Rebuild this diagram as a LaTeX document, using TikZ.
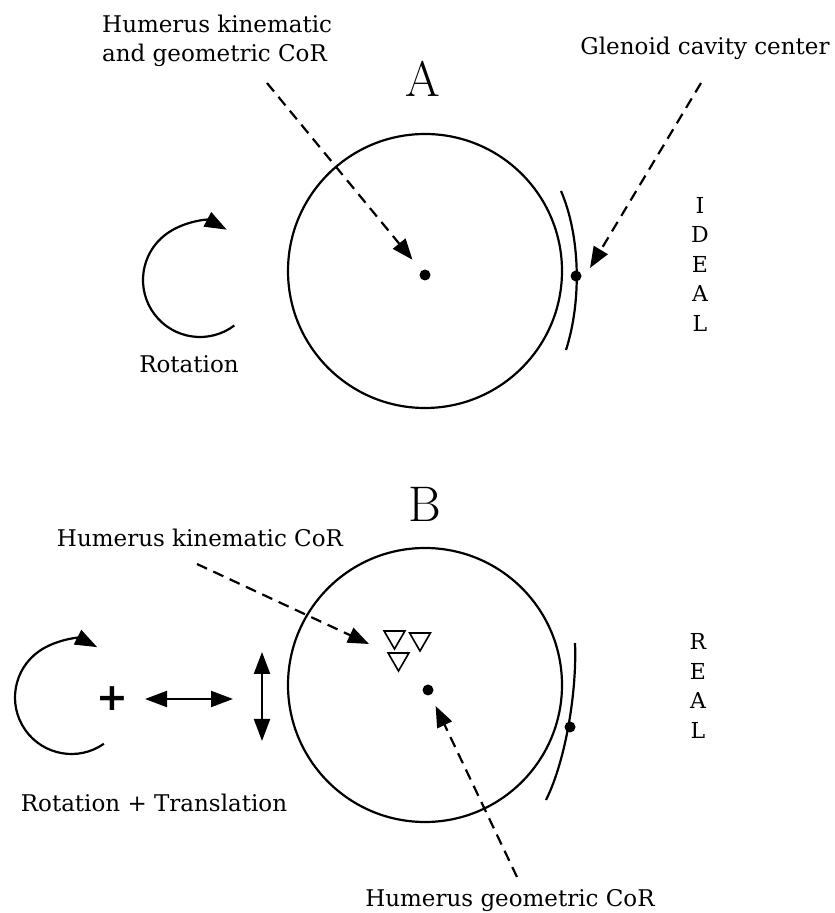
\documentclass[tikz,border=0pt]{standalone}
\usepackage{fontspec}
\usetikzlibrary{positioning,arrows.meta,shapes.geometric}
\newfontfamily\labelfont{DejaVu Serif}
\newfontfamily\plusfont{DejaVu Sans}

\begin{document}
\begin{tikzpicture}[x=1pt, y=1pt,
    labelBox/.style={inner sep=0pt, font=\labelfont\fontsize{23}{29}\selectfont, align=left},
    letterBox/.style={inner sep=0pt, font=\labelfont\fontsize{22}{29.5}\selectfont, align=center},
    panelBox/.style={inner sep=0pt, font=\fontsize{50}{60}\selectfont},
    headCircle/.style={circle, draw, line width=2.2pt, minimum size=274pt, inner sep=0pt},
    dotBox/.style={circle, fill, minimum size=11pt, inner sep=0pt},
    triBox/.style={regular polygon, regular polygon sides=3, shape border rotate=180, draw, line width=1.6pt, minimum size=24pt, inner sep=0pt},
    dashArrow/.style={-{Triangle[length=21pt, width=16pt]}, line width=2.2pt, dash pattern=on 11pt off 7pt},
    moveArrow/.style={{Triangle[length=22pt, width=16pt]}-{Triangle[length=22pt, width=16pt]}, line width=2.2pt},
    rotArrow/.style={-{Triangle[length=22pt, width=16pt]}, line width=2.2pt},
    glenoidLine/.style={line width=2.2pt}
]
    \useasboundingbox (0,0) rectangle (835,913);

    \node[panelBox, anchor=base] (titleA) at (423,816) {A};
    \node[headCircle] (headA) at (425,642) {};
    \node[dotBox] (corA) at (425,638) {};
    \node[dotBox] (gcA) at (576,637) {};
    \draw[glenoidLine] (561,722) .. controls (580,678) and (582,613) .. (566,563);

    \node[labelBox, anchor=north west] (kgLabel) at (102,898) {Humerus kinematic\\and geometric CoR};
    \coordinate (kgFrom) at (267,830);
    \draw[dashArrow, shorten >=14pt] (kgFrom) -- (corA);

    \node[labelBox, anchor=base] (gcLabel) at (705,858) {Glenoid cavity center};
    \coordinate (gcFrom) at (701,830);
    \coordinate (gcTipA) at (590,645);
    \draw[dashArrow] (gcFrom) -- (gcTipA);

    \node[letterBox] (ideal) at (700,649) {I\\D\\E\\A\\L};

    \coordinate (rotA) at (200,633);
    \draw[rotArrow] ([shift={(-53:57)}]rotA) arc[start angle=-53, end angle=-298, radius=57];
    \node[labelBox, anchor=base] (rotLabel) at (189,540) {Rotation};

    \node[panelBox, anchor=base] (titleB) at (425,391) {B};
    \node[headCircle] (headB) at (425,228) {};
    \node[dotBox] (corB) at (428,223) {};
    \node[triBox] (kinB1) at (394.5,276) {};
    \node[triBox] (kinB2) at (420,274) {};
    \node[triBox] (kinB3) at (398.5,254) {};
    \node[dotBox] (gcB) at (570,186) {};
    \draw[glenoidLine] (575,270) .. controls (577,223) and (566,153) .. (546,113);

    \node[labelBox, anchor=base] (kinLabel) at (200,366) {Humerus kinematic CoR};
    \coordinate (kinFrom) at (197,349);
    \coordinate (kinTip) at (369,269);
    \draw[dashArrow] (kinFrom) -- (kinTip);

    \node[labelBox, anchor=base] (geoLabel) at (510,6) {Humerus geometric CoR};
    \coordinate (geoFrom) at (517,36);
    \draw[dashArrow, shorten >=12pt] (geoFrom) -- (corB);

    \node[letterBox] (real) at (698,227) {R\\E\\A\\L};

    \coordinate (rotB) at (71.5,215.5);
    \draw[rotArrow] ([shift={(-55:56.5)}]rotB) arc[start angle=-55, end angle=-297, radius=56.5];
    \node[inner sep=0pt, font=\plusfont\bfseries\fontsize{38}{38}\selectfont] (plusSign) at (112.5,214.5) {+};
    \coordinate (slideL) at (145,214);
    \coordinate (slideR) at (233,214);
    \draw[moveArrow] (slideL) -- (slideR);
    \coordinate (liftT) at (262,261);
    \coordinate (liftB) at (262,172);
    \draw[moveArrow] (liftT) -- (liftB);
    \node[labelBox, anchor=base] (rtLabel) at (154,101) {Rotation + Translation};
\end{tikzpicture}
\end{document}
